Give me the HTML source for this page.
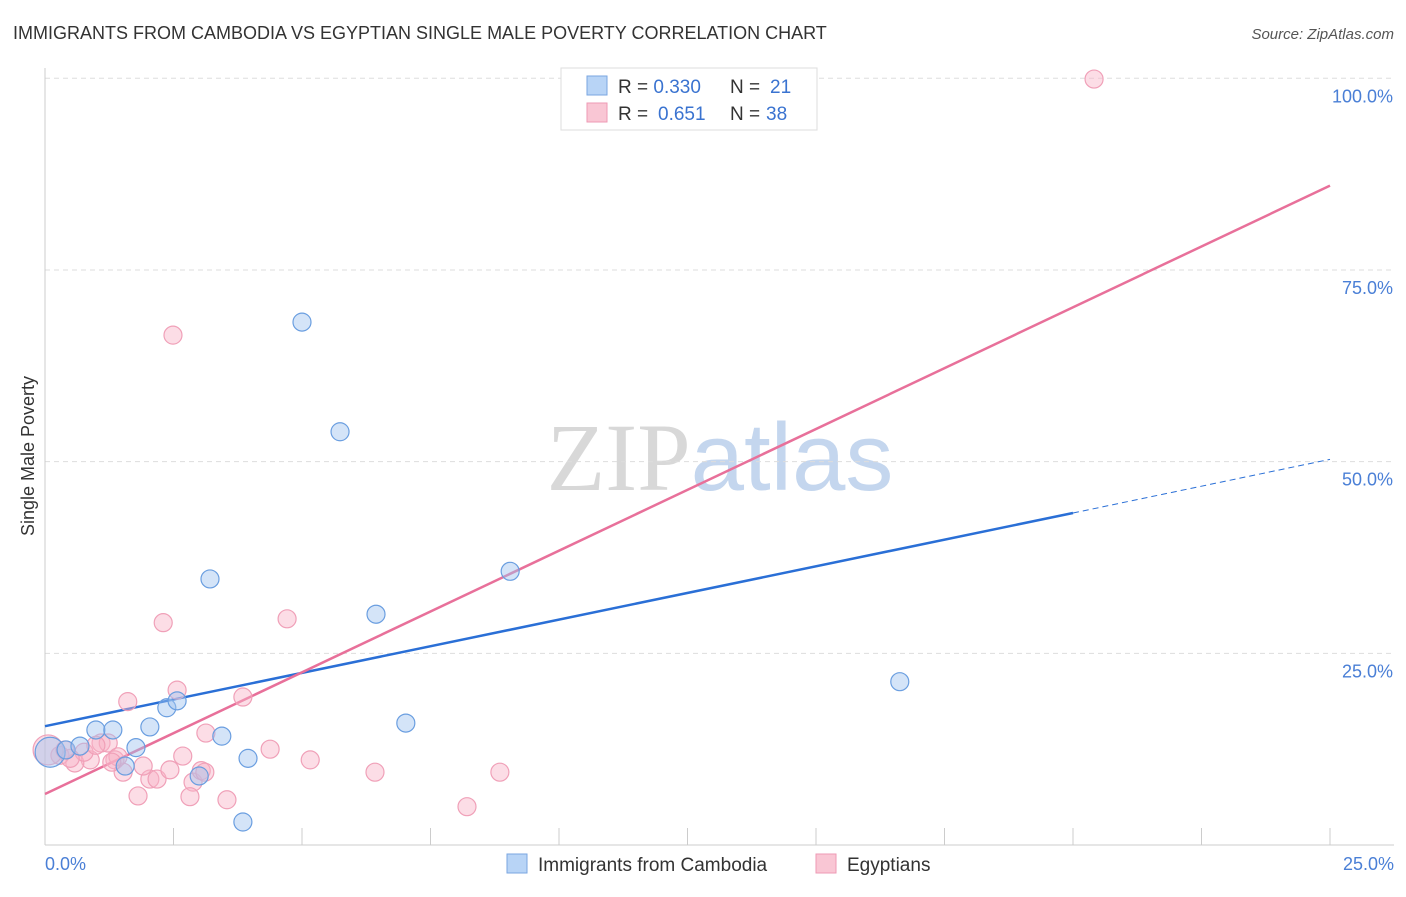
<!DOCTYPE html>
<html><head><meta charset="utf-8"><style>
body{margin:0;background:#fff;font-family:"Liberation Sans",sans-serif;}
</style></head><body>
<svg width="1406" height="892" xmlns="http://www.w3.org/2000/svg" font-family="Liberation Sans, sans-serif">
<text x="13" y="39" font-size="18" fill="#333">IMMIGRANTS FROM CAMBODIA VS EGYPTIAN SINGLE MALE POVERTY CORRELATION CHART</text>
<text x="1394" y="39" font-size="15" fill="#555" font-style="italic" text-anchor="end">Source: ZipAtlas.com</text>
<text x="720" y="490" font-size="96" text-anchor="middle"><tspan fill="#d8d8d8" font-family="Liberation Serif, serif">ZIP</tspan><tspan fill="#c4d6ee">atlas</tspan></text>
<g id="grid"></g>
<line x1="45" y1="68" x2="45" y2="845" stroke="#ccc"/>
<line x1="45" y1="845" x2="1394" y2="845" stroke="#ccc"/>
<text transform="translate(34,456) rotate(-90)" font-size="18" fill="#333" text-anchor="middle">Single Male Poverty</text>
<text x="45" y="870" font-size="18" fill="#4a7fd6">0.0%</text>
<text x="1394" y="870" font-size="18" fill="#4a7fd6" text-anchor="end">25.0%</text>
<g id="lines"></g>
<g id="points"></g>
<g>
<rect x="561" y="68" width="256" height="62" fill="#fff" stroke="#ddd"/>
<rect x="587" y="76" width="20" height="19" fill="#b8d4f6" stroke="#7aa6e0"/>
<rect x="587" y="103" width="20" height="19" fill="#f9c6d4" stroke="#ee9ab4"/>
<text x="618" y="93" font-size="19" fill="#333">R = <tspan fill="#3a73d0">0.330</tspan><tspan x="730">N = </tspan><tspan x="770" fill="#3a73d0">21</tspan></text>
<text x="618" y="120" font-size="19" fill="#333">R = <tspan x="658" fill="#3a73d0">0.651</tspan><tspan x="730">N = </tspan><tspan x="766" fill="#3a73d0">38</tspan></text>
</g>
<g>
<rect x="507" y="854" width="20" height="19" fill="#b8d4f6" stroke="#7aa6e0"/>
<text x="538" y="871" font-size="19" fill="#333">Immigrants from Cambodia</text>
<rect x="816" y="854" width="20" height="19" fill="#f9c6d4" stroke="#ee9ab4"/>
<text x="847" y="871" font-size="19" fill="#333">Egyptians</text>
</g>
</svg>
<script>
const yTicks=[25,50,75,100];
const yTickLabels=["25.0%","50.0%","75.0%","100.0%"];
const xTicks=[0,2.5,5,7.5,10,12.5,15,17.5,20,22.5,25];
const cambX=[0.10,0.41,0.68,0.99,1.32,2.04,2.37,2.57,1.77,1.56,3.00,3.44,3.95,3.85,3.21,5.00,5.74,6.44,7.02,9.05,16.63];
const cambY=[12.1,12.4,12.9,15.0,15.0,15.4,17.9,18.8,12.7,10.3,9.0,14.2,11.3,3.0,34.7,68.2,53.9,30.1,15.9,35.7,21.3];
const egyX=[20.41,2.49,2.30,4.71,2.57,3.85,1.61,3.13,2.68,4.38,5.16,6.42,8.85,8.21,1.09,1.23,0.88,0.58,0.29,0.06,1.36,1.52,1.81,2.04,2.18,1.91,2.43,2.88,3.04,2.82,3.54,3.11,1.42,0.76,0.49,0.39,0.99,1.30];
const egyY=[99.9,66.5,29.0,29.5,20.2,19.3,18.7,14.6,11.6,12.5,11.1,9.5,9.5,5.0,13.3,13.3,11.1,10.7,11.7,12.4,11.1,9.5,6.4,8.6,8.6,10.3,9.8,8.2,9.7,6.3,5.9,9.5,11.5,12.1,11.3,12.4,13.0,10.8];
const cambLine=[15.5,43.3,50.3]; // values at x=0, 20 (solid end), 25
const egyLine=[6.65,86.0]; // values at x=0, 25
const NS="http://www.w3.org/2000/svg";
const sx=v=>45+v*51.4, sy=v=>845-v*7.667;
function mk(t,a,p){const e=document.createElementNS(NS,t);for(const k in a)e.setAttribute(k,a[k]);p.appendChild(e);return e;}
const grid=document.getElementById('grid');
yTicks.forEach((t,i)=>{
 const l=mk('line',{x1:45,x2:1394,y1:sy(t),y2:sy(t),stroke:'#ddd','stroke-dasharray':'5,4'},grid);
 
 
 const tx=mk('text',{x:1393,y:sy(t)+24,'font-size':18,fill:'#4a7fd6','text-anchor':'end'},grid);
 tx.textContent=yTickLabels[i];
 
 
});
xTicks.forEach(t=>{
 const l=mk('line',{x1:sx(t),x2:sx(t),y1:828,y2:845,stroke:'#ccc'},grid);
 
 
});
const lines=document.getElementById('lines');
let b=mk('line',{x1:sx(0),y1:sy(cambLine[0]),x2:sx(20),y2:sy(cambLine[1]),stroke:'#2a6fd6','stroke-width':2.5},lines);


let bd=mk('line',{x1:sx(20),y1:sy(cambLine[1]),x2:sx(25),y2:sy(cambLine[2]),stroke:'#2a6fd6','stroke-width':1,'stroke-dasharray':'6,4'},lines);


let p=mk('line',{x1:sx(0),y1:sy(egyLine[0]),x2:sx(25),y2:sy(egyLine[1]),stroke:'#e8709a','stroke-width':2.5},lines);


const pts=document.getElementById('points');
egyX.forEach((x,i)=>{
 const c=mk('circle',{cx:sx(x),cy:sy(egyY[i]),r:i==19?15:9,fill:'rgba(248,180,200,0.45)',stroke:'#f0a0b8','stroke-width':1.2},pts);
 
 
});
cambX.forEach((x,i)=>{
 const c=mk('circle',{cx:sx(x),cy:sy(cambY[i]),r:i==0?15:9,fill:'rgba(160,196,240,0.45)',stroke:'#6a9ee0','stroke-width':1.2},pts);
 
 
});
</script>
</body></html>
